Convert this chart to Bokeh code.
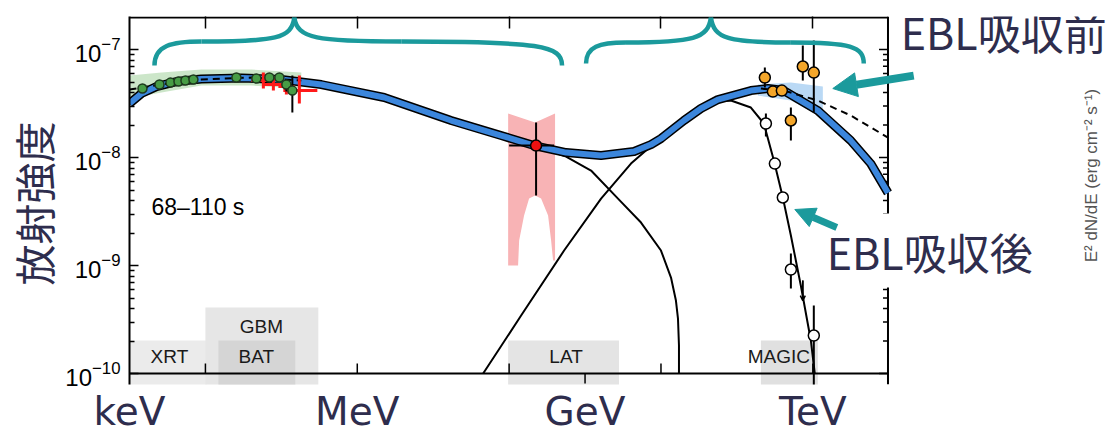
import math
from bokeh.plotting import figure
from bokeh.models import (Range1d, FixedTicker, LogAxis, Arrow, NormalHead, OpenHead, Title)
from bokeh.embed import file_html
from bokeh.resources import INLINE
from bokeh.core.properties import value

# ---------------------------------------------------------------------------
# Values: log10(E / eV) and log10(E^2 dN/dE / erg cm^-2 s^-1)
# ---------------------------------------------------------------------------
total_logE = [3.0, 3.158, 3.355, 3.618, 3.947, 4.474, 5.0, 5.526, 6.355, 7.237, 7.895, 8.329,
              8.75, 9.211, 9.645, 9.868, 10.0, 10.303, 10.526, 10.75, 11.184, 11.408, 11.618,
              12.066, 12.5, 12.763, 12.99]
total_logF = [-7.5, -7.407, -7.343, -7.296, -7.273, -7.264, -7.278, -7.324, -7.444, -7.657, -7.796, -7.889,
              -7.954, -7.981, -7.944, -7.880, -7.824, -7.657, -7.546, -7.463, -7.380, -7.361, -7.380,
              -7.565, -7.843, -8.056, -8.327]

sync_logE = [3.0, 3.355, 3.947, 4.474, 5.0, 5.526, 6.355, 7.237, 7.895, 8.329,
             8.75, 9.079, 9.434, 9.737, 10.0, 10.132, 10.197, 10.224, 10.237, 10.237]
sync_logF = [-7.5, -7.343, -7.273, -7.264, -7.278, -7.324, -7.444, -7.657, -7.796, -7.889,
             -7.991, -8.120, -8.380, -8.602, -8.861, -9.111, -9.324, -9.491, -9.741, -10.0]

ic_logE = [7.658, 8.158, 8.724, 9.211, 9.605, 10.0, 10.303, 10.526, 10.724, 10.921, 11.184,
           11.355, 11.487, 11.605, 11.711, 11.842, 11.974, 12.026]
ic_logF = [-10.0, -9.463, -8.861, -8.380, -8.056, -7.815, -7.657, -7.537, -7.481, -7.472, -7.537,
           -7.685, -8.028, -8.370, -8.722, -9.185, -9.694, -10.0]

intr_logE = [11.316, 11.618, 12.066, 12.5, 12.99]
intr_logF = [-7.361, -7.380, -7.472, -7.611, -7.815]

gband_logE = [3.0, 3.421, 3.947, 4.605, 5.263, 5.263, 4.605, 3.947, 3.421, 3.0]
gband_logF = [-7.241, -7.213, -7.185, -7.185, -7.213, -7.361, -7.333, -7.333, -7.398, -7.454]
gline_logE = [3.0, 3.421, 3.947, 4.605, 5.263]
gline_logF = [-7.370, -7.324, -7.278, -7.259, -7.287]

bfly_logE = [11.276, 11.711, 12.132, 12.132, 11.711, 11.276]
bfly_logF = [-7.324, -7.306, -7.343, -7.630, -7.472, -7.426]

lat_bfly_logE = [7.987, 8.342, 8.605, 8.605, 8.579, 8.553, 8.513, 8.421, 8.342, 8.263, 8.197,
                 8.132, 8.118, 7.987]
lat_bfly_logF = [-7.593, -7.676, -7.593, -8.954, -8.954, -8.769, -8.537, -8.380, -8.352, -8.380,
                 -8.537, -8.769, -9.0, -9.0]

green_logE = [3.171, 3.395, 3.539, 3.645, 3.737, 3.842, 4.408, 4.671, 4.842, 4.974, 5.066, 5.145]
green_logF = [-7.361, -7.324, -7.306, -7.296, -7.287, -7.278, -7.259, -7.268, -7.259, -7.259,
              -7.324, -7.380]
green_err_logE = [5.066, 5.145]
green_err_lo = [-7.389, -7.583]
green_err_hi = [-7.278, -7.241]

red_logE = [4.763, 4.895, 5.066, 5.237]
red_logE_lo = [4.605, 4.763, 4.961, 5.026]
red_logE_hi = [4.921, 5.053, 5.171, 5.474]
red_logF = [-7.287, -7.324, -7.343, -7.380]
red_logF_lo = [-7.361, -7.380, -7.417, -7.5]
red_logF_hi = [-7.213, -7.250, -7.287, -7.241]

lat_logE = [8.355]
lat_logE_lo = [8.0]
lat_logE_hi = [8.592]
lat_logF = [-7.889]
lat_logF_lo = [-8.352]
lat_logF_hi = [-7.676]

magic_intr_logE = [11.368, 11.474, 11.592, 11.711, 11.868, 12.013]
magic_intr_logF = [-7.259, -7.389, -7.380, -7.657, -7.157, -7.213]
magic_intr_lo = [-7.352, -7.389, -7.380, -7.843, -7.287, -7.583]
magic_intr_hi = [-7.167, -7.389, -7.380, -7.537, -6.963, -6.917]

magic_obs_logE = [11.382, 11.5, 11.605, 11.711, 12.013]
magic_obs_logF = [-7.685, -8.056, -8.370, -9.037, -9.648]
magic_obs_lo = [-7.806, -8.056, -8.370, -9.213, -10.2]
magic_obs_hi = [-7.593, -8.056, -8.370, -8.889, -9.370]
ul_logE = [11.868]
ul_top = [-9.139]
ul_bot = [-9.324]

inst_names = ["XRT", "GBM", "BAT", "LAT", "MAGIC"]
inst_lo = [3.0, 4.0, 4.171, 7.987, 11.316]
inst_hi = [4.013, 5.487, 5.184, 9.447, 12.066]
inst_top = [-9.694, -9.389, -9.694, -9.694, -9.694]
inst_label_logE = [3.526, 4.737, 4.671, 8.75, 11.553]
inst_label_logF = [-9.843, -9.565, -9.843, -9.843, -9.843]
inst_colors = ["#ebebeb", "#e6e6e6", "#d5d5d5", "#e4e4e4", "#e0e0e0"]

unit_ticks = [1e3, 1e6, 1e9, 1e12]
unit_labels = ["keV", "MeV", "GeV", "TeV"]
top_ticks = [1e4, 1e6, 1e8, 1e10, 1e12]
flux_ticks = [1e-10, 1e-9, 1e-8, 1e-7]
edge_tick_up = [4, 6, 8, 10, 12]
edge_tick_down = [9]

# braces: cubic bezier pieces (start, control0, control1, end) in log coords
br_x0 = [3.329, 3.947, 5.171, 6.579, 9.013, 9.539, 10.658, 11.711]
br_y0 = [-7.148, -6.926, -6.704, -6.926, -7.130, -6.935, -6.704, -6.935]
br_cx0 = [3.329, 4.934, 5.211, 8.421, 9.013, 10.434, 10.697, 12.5]
br_cy0 = [-6.963, -6.926, -6.898, -6.926, -6.972, -6.935, -6.898, -6.935]
br_cx1 = [3.553, 5.132, 5.461, 8.697, 9.184, 10.618, 10.882, 12.671]
br_cy1 = [-6.926, -6.898, -6.926, -6.963, -6.935, -6.898, -6.935, -6.972]
br_x1 = [3.947, 5.171, 6.579, 8.697, 9.539, 10.658, 11.711, 12.671]
br_y1 = [-6.926, -6.704, -6.926, -7.148, -6.935, -6.704, -6.935, -7.130]


def L(a):
    return [10.0 ** v for v in a]


teal = "#1b9a9c"
navy = "#2e2d4d"

PX_X, PX_Y = 76.0, 108.0                           # pixels per decade
E_MIN, E_EDGE, E_CANVAS = 3.0, 12.99, 15.868      # log10 E at frame left, box right edge, canvas edge
F_MAX = -6.694
F_MIN = F_MAX - 368 / PX_Y                         # frame is 368 px tall

p = figure(width=1106, height=437, x_axis_type="log", y_axis_type="log",
           x_range=Range1d(10 ** E_MIN, 10 ** E_CANVAS), y_range=Range1d(10 ** F_MIN, 10 ** F_MAX),
           x_axis_location="above", output_backend="svg", toolbar_location=None,
           min_border_left=128, min_border_right=0, min_border_top=16, min_border_bottom=53)
p.outline_line_color = None
p.grid.visible = False
p.background_fill_color = "white"

# top axis: ticks only (its line is drawn to the box edge below)
xa = p.xaxis[0]
xa.ticker = FixedTicker(ticks=top_ticks, minor_ticks=[])
xa.major_tick_in = 12
xa.major_tick_out = 0
xa.minor_tick_in = 0
xa.minor_tick_out = 0
xa.major_tick_line_width = 1.5
xa.axis_line_color = None
xa.major_label_text_font_size = "1px"
xa.major_label_text_alpha = 0
xa.major_label_standoff = 0

# bottom axis: unit names
ba = LogAxis(ticker=FixedTicker(ticks=unit_ticks, minor_ticks=[]),
             major_label_overrides=dict(zip(unit_ticks, unit_labels)),
             axis_line_color=None, major_tick_line_color=None, minor_tick_line_color=None,
             major_tick_in=0, major_tick_out=0, minor_tick_in=0, minor_tick_out=0,
             major_label_text_font="DejaVu Sans", major_label_text_font_size="39px",
             major_label_text_color=navy, major_label_standoff=4)
p.add_layout(ba, "below")

minor = [k * 10.0 ** n for n in range(-10, -7) for k in range(2, 10)]
ya = p.yaxis[0]
ya.ticker = FixedTicker(ticks=flux_ticks, minor_ticks=minor)
ya.major_tick_in = 9
ya.major_tick_out = 0
ya.minor_tick_in = 5
ya.minor_tick_out = 0
ya.axis_line_width = 2
ya.major_tick_line_width = 1.5
ya.minor_tick_line_width = 1.5
ya.major_label_text_font = "Liberation Sans"
ya.major_label_text_font_size = "24px"
ya.major_label_text_color = "black"
ya.major_label_standoff = 9

p.add_layout(Title(text="放射強度", text_font="Noto Sans CJK JP", text_font_size="41px",
                   text_font_style="normal", text_color=navy, align="left",
                   vertical_align="bottom", offset=99, standoff=0), "left")

# instrument boxes
p.quad(left=L(inst_lo), right=L(inst_hi), top=L(inst_top), bottom=[10 ** (F_MIN - 0.1)] * len(inst_lo),
       fill_color=inst_colors, line_color=None)
p.text(x=L(inst_label_logE), y=L(inst_label_logF), text=inst_names,
       text_font=value("Liberation Sans"), text_font_size="19px", text_align="center",
       text_baseline="middle", text_color="#1a1a1a")

# bands
p.patch(L(gband_logE), L(gband_logF), fill_color="#c6e3c3", fill_alpha=0.9, line_color=None)
p.patch(L(lat_bfly_logE), L(lat_bfly_logF), fill_color="#f8b3b5", line_color=None)
p.patch(L(bfly_logE), L(bfly_logF), fill_color="#a9d0f2", fill_alpha=0.8, line_color=None)

# box edges: top, right (with inward ticks), 1e-10 baseline with ticks
x_edge = 10 ** E_EDGE
p.segment(x0=[10 ** E_MIN], y0=[10 ** (F_MAX - 1 / PX_Y)], x1=[x_edge], y1=[10 ** (F_MAX - 1 / PX_Y)],
          line_color="black", line_width=2)
p.segment(x0=[x_edge], y0=[10 ** F_MIN], x1=[x_edge], y1=[10 ** F_MAX], line_color="black", line_width=2)
p.segment(x0=[x_edge] * len(flux_ticks), y0=flux_ticks,
          x1=[10 ** (E_EDGE - 9 / PX_X)] * len(flux_ticks), y1=flux_ticks,
          line_color="black", line_width=1.5)
p.segment(x0=[x_edge] * len(minor), y0=minor, x1=[10 ** (E_EDGE - 5 / PX_X)] * len(minor), y1=minor,
          line_color="black", line_width=1.5)
p.segment(x0=[10 ** E_MIN], y0=[1e-10], x1=[x_edge], y1=[1e-10], line_color="black", line_width=2)
tick_len = 10 ** (10 / PX_Y)
p.segment(x0=L(edge_tick_up), y0=[1e-10] * len(edge_tick_up), x1=L(edge_tick_up),
          y1=[1e-10 * tick_len] * len(edge_tick_up), line_color="black", line_width=1.5)
p.segment(x0=L(edge_tick_down), y0=[1e-10] * len(edge_tick_down), x1=L(edge_tick_down),
          y1=[1e-10 / tick_len] * len(edge_tick_down), line_color="black", line_width=1.5)

# model curves
p.line(L(sync_logE), L(sync_logF), line_color="black", line_width=2)
p.line(L(ic_logE), L(ic_logF), line_color="black", line_width=2)
p.line(L(total_logE), L(total_logF), line_color="black", line_width=9, line_join="round")
p.line(L(total_logE), L(total_logF), line_color="#3b86dc", line_width=6, line_join="round")
p.line(L(intr_logE), L(intr_logF), line_color="black", line_width=2, line_dash="7 5")
p.line(L(gline_logE), L(gline_logF), line_color="black", line_width=2, line_dash="7 5")

# data points
p.segment(x0=L(red_logE_lo), y0=L(red_logF), x1=L(red_logE_hi), y1=L(red_logF),
          line_color="#ff1a1a", line_width=3)
p.segment(x0=L(red_logE), y0=L(red_logF_lo), x1=L(red_logE), y1=L(red_logF_hi),
          line_color="#ff1a1a", line_width=3)
p.segment(x0=L(green_err_logE), y0=L(green_err_lo), x1=L(green_err_logE), y1=L(green_err_hi),
          line_color="black", line_width=2)
p.scatter(L(green_logE), L(green_logF), size=9, fill_color="#479c45", line_color="#1d3a1d",
          line_width=1.5)

p.segment(x0=L(lat_logE_lo), y0=L(lat_logF), x1=L(lat_logE_hi), y1=L(lat_logF),
          line_color="black", line_width=2)
p.segment(x0=L(lat_logE), y0=L(lat_logF_lo), x1=L(lat_logE), y1=L(lat_logF_hi),
          line_color="black", line_width=2)
p.scatter(L(lat_logE), L(lat_logF), size=11, fill_color="#ee1111", line_color="black",
          line_width=1.5)

p.segment(x0=L(magic_intr_logE), y0=L(magic_intr_lo), x1=L(magic_intr_logE), y1=L(magic_intr_hi),
          line_color="black", line_width=2)
p.scatter(L(magic_intr_logE), L(magic_intr_logF), size=11, fill_color="#f4a62a",
          line_color="black", line_width=1.5)

p.segment(x0=L(magic_obs_logE), y0=L(magic_obs_lo), x1=L(magic_obs_logE), y1=L(magic_obs_hi),
          line_color="black", line_width=2)
p.scatter(L(magic_obs_logE), L(magic_obs_logF), size=11, fill_color="white",
          line_color="black", line_width=1.5)
p.segment(x0=L(ul_logE), y0=L(ul_top), x1=L(ul_logE), y1=L(ul_bot), line_color="black",
          line_width=1.5)

# braces
p.bezier(x0=L(br_x0), y0=L(br_y0), x1=L(br_x1), y1=L(br_y1), cx0=L(br_cx0), cy0=L(br_cy0),
         cx1=L(br_cx1), cy1=L(br_cy1), line_color=teal, line_width=4.5)

# texts
p.text(x=[10 ** 3.289], y=[10 ** -8.454], text=["68–110 s"], text_font=value("Liberation Sans"),
       text_font_size="23px", text_baseline="middle", text_align="left", text_color="black")

p.text(x=[10 ** 13.158], y=[10 ** -6.824], text=["EBL吸収前"], text_font=value("Noto Sans CJK JP"),
       text_font_size="43px", text_color=navy, text_align="left", text_baseline="middle")
# white box behind the lower label (it interrupts the box edge)
p.quad(left=[10 ** 12.039], right=[10 ** 15.066], top=[10 ** -8.519], bottom=[10 ** -9.204],
       fill_color="white", line_color=None)
p.text(x=[10 ** 12.184], y=[10 ** -8.861], text=["EBL吸収後"], text_font=value("Noto Sans CJK JP"),
       text_font_size="43px", text_color=navy, text_align="left", text_baseline="middle")
p.text(x=[10 ** 15.67], y=[10 ** -8.167], text=["E² dN/dE (erg cm⁻² s⁻¹)"],
       text_font=value("Liberation Sans"), text_font_size="17px", text_color="#555555",
       text_align="center", text_baseline="middle", angle=math.pi / 2)

p.add_layout(Arrow(end=NormalHead(size=24, fill_color=teal, line_color=teal),
                   x_start=10 ** 13.329, y_start=10 ** -7.241, x_end=10 ** 12.263, y_end=10 ** -7.361,
                   line_color=teal, line_width=8))
p.add_layout(Arrow(end=NormalHead(size=20, fill_color=teal, line_color=teal),
                   x_start=10 ** 12.316, y_start=10 ** -8.648, x_end=10 ** 11.763, y_end=10 ** -8.481,
                   line_color=teal, line_width=7))
p.add_layout(Arrow(end=OpenHead(size=5, line_color="black", line_width=1.5),
                   x_start=L(ul_logE)[0], y_start=L(ul_top)[0], x_end=L(ul_logE)[0], y_end=L(ul_bot)[0],
                   line_color="black", line_width=1.5))

open("out.html", "w").write(file_html(p, INLINE))
